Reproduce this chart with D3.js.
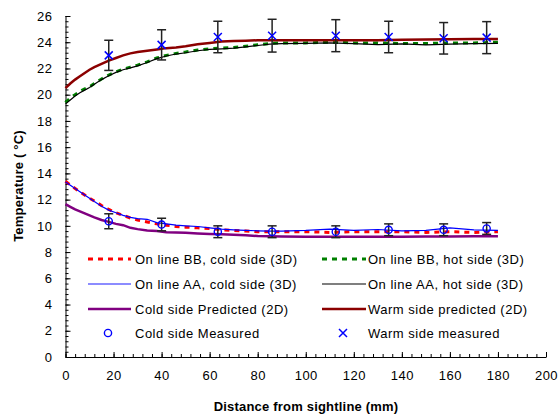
<!DOCTYPE html>
<html>
<head>
<meta charset="utf-8">
<script src="https://cdn.jsdelivr.net/npm/d3@7"></script>
<style>
  body { margin: 0; background: #fff; }
  svg { display: block; font-family: "Liberation Sans", Arial, sans-serif; }
</style>
</head>
<body>
<svg id="chart" width="559" height="417"></svg>
<script>
// distances (mm) at which the model curves were sampled
var dist = [0, 2, 4, 6, 8, 10, 12, 15, 18, 21, 24, 27, 30, 34, 38, 42, 46, 50, 55, 60,
            65, 70, 75, 80, 85, 90, 100, 110, 120, 130, 140, 150, 160, 170, 180];

var bbCold = [13.4, 13.1, 12.85, 12.6, 12.35, 12.1, 11.9, 11.55, 11.25, 11.0, 10.8, 10.6, 10.45, 10.3, 10.15, 10.05, 9.95, 9.9, 9.85, 9.8,
              9.7, 9.65, 9.6, 9.55, 9.55, 9.55, 9.55, 9.5, 9.55, 9.55, 9.55, 9.5, 9.55, 9.5, 9.55];
var bbHot = [19.4, 19.75, 20.0, 20.25, 20.45, 20.6, 20.85, 21.2, 21.5, 21.75, 21.95, 22.1, 22.25, 22.5, 22.8, 23.0, 23.15, 23.25, 23.4, 23.5,
             23.55, 23.6, 23.7, 23.8, 23.9, 23.95, 23.95, 24.0, 23.95, 23.95, 23.9, 23.9, 23.95, 23.95, 24.0];
var aaCold = [13.35, 13.1, 12.85, 12.6, 12.35, 12.1, 11.85, 11.5, 11.2, 11.0, 10.8, 10.65, 10.55, 10.5, 10.25, 10.15, 10.05, 10.0, 9.95, 9.85,
              9.75, 9.7, 9.65, 9.62, 9.6, 9.6, 9.65, 9.75, 9.65, 9.72, 9.62, 9.65, 9.85, 9.7, 9.65];
var aaHot = [19.3, 19.6, 19.9, 20.15, 20.35, 20.55, 20.8, 21.15, 21.45, 21.7, 21.9, 22.05, 22.2, 22.45, 22.75, 22.95, 23.1, 23.2, 23.35, 23.45,
             23.5, 23.55, 23.65, 23.75, 23.85, 23.9, 23.92, 23.95, 23.9, 23.82, 23.88, 23.8, 23.85, 23.9, 23.92];
var coldPred = [11.65, 11.45, 11.25, 11.1, 10.95, 10.8, 10.65, 10.45, 10.3, 10.15, 10.05, 9.85, 9.75, 9.65, 9.6, 9.52, 9.5, 9.48, 9.42, 9.38,
                9.35, 9.32, 9.28, 9.22, 9.2, 9.18, 9.17, 9.17, 9.17, 9.17, 9.17, 9.18, 9.18, 9.2, 9.2];
var warmPred = [20.5, 20.85, 21.15, 21.4, 21.65, 21.9, 22.1, 22.35, 22.6, 22.8, 23.0, 23.15, 23.25, 23.35, 23.45, 23.55, 23.6, 23.7, 23.85, 23.95,
                24.05, 24.1, 24.12, 24.15, 24.15, 24.15, 24.15, 24.15, 24.15, 24.15, 24.18, 24.2, 24.22, 24.24, 24.25];

// measurements
var measDist = [18, 40, 63.4, 86, 112.5, 134.5, 157.4, 175.3];
var coldMeas = [10.35, 10.1, 9.55, 9.55, 9.55, 9.7, 9.7, 9.8];
var coldErr = [0.57, 0.48, 0.45, 0.45, 0.45, 0.45, 0.45, 0.45];
var warmMeas = [23.0, 23.8, 24.4, 24.5, 24.5, 24.4, 24.3, 24.35];
var warmErr = [1.15, 1.15, 1.2, 1.25, 1.22, 1.2, 1.2, 1.22];

var xTicks = [0, 20, 40, 60, 80, 100, 120, 140, 160, 180, 200];
var yTicks = [0, 2, 4, 6, 8, 10, 12, 14, 16, 18, 20, 22, 24, 26];

var svg = d3.select("#chart");

var x = d3.scaleLinear().domain([0, 200]).range([65.5, 546]);
var y = d3.scaleLinear().domain([0, 26]).range([357, 16]);

// axes - minor ticks first
svg.append("g")
    .attr("transform", "translate(0,357)")
    .call(d3.axisBottom(x).tickValues(d3.range(0, 201, 4)).tickSize(-3).tickFormat(""))
    .call(g => g.select(".domain").remove());
svg.append("g")
    .attr("transform", "translate(65.5,0)")
    .call(d3.axisLeft(y).tickValues(d3.range(0, 26.01, 0.4)).tickSize(-3).tickFormat(""))
    .call(g => g.select(".domain").remove());

svg.append("g")
    .attr("transform", "translate(0,357)")
    .call(d3.axisBottom(x).tickValues(xTicks).tickSizeInner(-5).tickSizeOuter(0).tickPadding(14))
    .call(g => g.selectAll("text").attr("font-size", 13).attr("letter-spacing", 0.5)
        .attr("font-family", "Liberation Sans, Arial, sans-serif"));
svg.append("g")
    .attr("transform", "translate(65.5,0)")
    .call(d3.axisLeft(y).tickValues(yTicks).tickSizeInner(-5).tickSizeOuter(0).tickPadding(13))
    .call(g => g.selectAll("text").attr("font-size", 13).attr("letter-spacing", 0.5)
        .attr("font-family", "Liberation Sans, Arial, sans-serif"));

svg.selectAll(".tick line, .domain").attr("stroke", "#000");

// titles
svg.append("text")
    .attr("x", 306).attr("y", 411)
    .attr("text-anchor", "middle")
    .attr("font-weight", "bold").attr("font-size", 13).attr("letter-spacing", 0.2)
    .text("Distance from sightline (mm)");
svg.append("text")
    .attr("transform", "translate(23,186) rotate(-90)")
    .attr("text-anchor", "middle")
    .attr("font-weight", "bold").attr("font-size", 13).attr("letter-spacing", 0.2)
    .text("Temperature ( °C)");

var line = d3.line().x((d, i) => x(dist[i])).y(d => y(d));

var series = [
  { name: "On line BB, cold side (3D)", data: bbCold, color: "#ff0000", width: 3, dash: "5,5" },
  { name: "On line BB, hot side (3D)", data: bbHot, color: "#008000", width: 3, dash: "5,5" },
  { name: "On line AA, cold side (3D)", data: aaCold, color: "#0000ff", width: 1.2, dash: null, legendColor: "#6666ff" },
  { name: "On line AA, hot side (3D)", data: aaHot, color: "#000000", width: 1.2, dash: null, legendColor: "#555555" },
  { name: "Cold side Predicted (2D)", data: coldPred, color: "#800080", width: 2.5, dash: null },
  { name: "Warm side predicted (2D)", data: warmPred, color: "#8b0000", width: 2.5, dash: null }
];

svg.append("g").selectAll("path")
  .data(series)
  .join("path")
    .attr("fill", "none")
    .attr("stroke", d => d.color)
    .attr("stroke-width", d => d.width)
    .attr("stroke-dasharray", d => d.dash)
    .attr("d", d => line(d.data));

// error bars
function errorBars(vals, errs) {
  var g = svg.append("g").attr("stroke", "#222").attr("stroke-width", 1.5);
  measDist.forEach(function(m, i) {
    var cx = x(m), lo = y(vals[i] - errs[i]), hi = y(vals[i] + errs[i]);
    g.append("line").attr("x1", cx).attr("x2", cx).attr("y1", lo).attr("y2", hi);
    g.append("line").attr("x1", cx - 4.5).attr("x2", cx + 4.5).attr("y1", lo).attr("y2", lo);
    g.append("line").attr("x1", cx - 4.5).attr("x2", cx + 4.5).attr("y1", hi).attr("y2", hi);
  });
}
errorBars(coldMeas, coldErr);
errorBars(warmMeas, warmErr);

function circleMark(g, cx, cy) {
  g.append("circle").attr("cx", cx).attr("cy", cy).attr("r", 3.6)
    .attr("fill", "none").attr("stroke", "#0000ff").attr("stroke-width", 1.4);
}
function crossMark(g, cx, cy) {
  var s = 4;
  g.append("path")
    .attr("d", `M${cx - s},${cy - s}L${cx + s},${cy + s}M${cx - s},${cy + s}L${cx + s},${cy - s}`)
    .attr("stroke", "#0000ff").attr("stroke-width", 1.5);
}

var marks = svg.append("g");
measDist.forEach(function(m, i) {
  circleMark(marks, x(m), y(coldMeas[i]));
  crossMark(marks, x(m), y(warmMeas[i]));
});

// legend
var legend = svg.append("g").attr("font-size", 13).attr("letter-spacing", 0.5);
var rowY = [259, 284, 309, 333];
var colX = [{ x1: 88, x2: 131, tx: 135 }, { x1: 322, x2: 366, tx: 368 }];
series.forEach(function(s, i) {
  var c = colX[i % 2], ry = rowY[Math.floor(i / 2)];
  legend.append("line")
    .attr("x1", c.x1).attr("x2", c.x2).attr("y1", ry).attr("y2", ry)
    .attr("stroke", s.legendColor || s.color)
    .attr("stroke-width", s.dash ? 3 : (s.width < 2 ? 1.5 : 2.5))
    .attr("stroke-dasharray", s.dash);
  legend.append("text").attr("x", c.tx).attr("y", ry + 4.5).text(s.name);
});
circleMark(legend, 108, rowY[3]);
legend.append("text").attr("x", 135).attr("y", rowY[3] + 4.5).text("Cold side Measured");
crossMark(legend, 343, rowY[3]);
legend.append("text").attr("x", 368).attr("y", rowY[3] + 4.5).text("Warm side measured");
</script>
</body>
</html>
